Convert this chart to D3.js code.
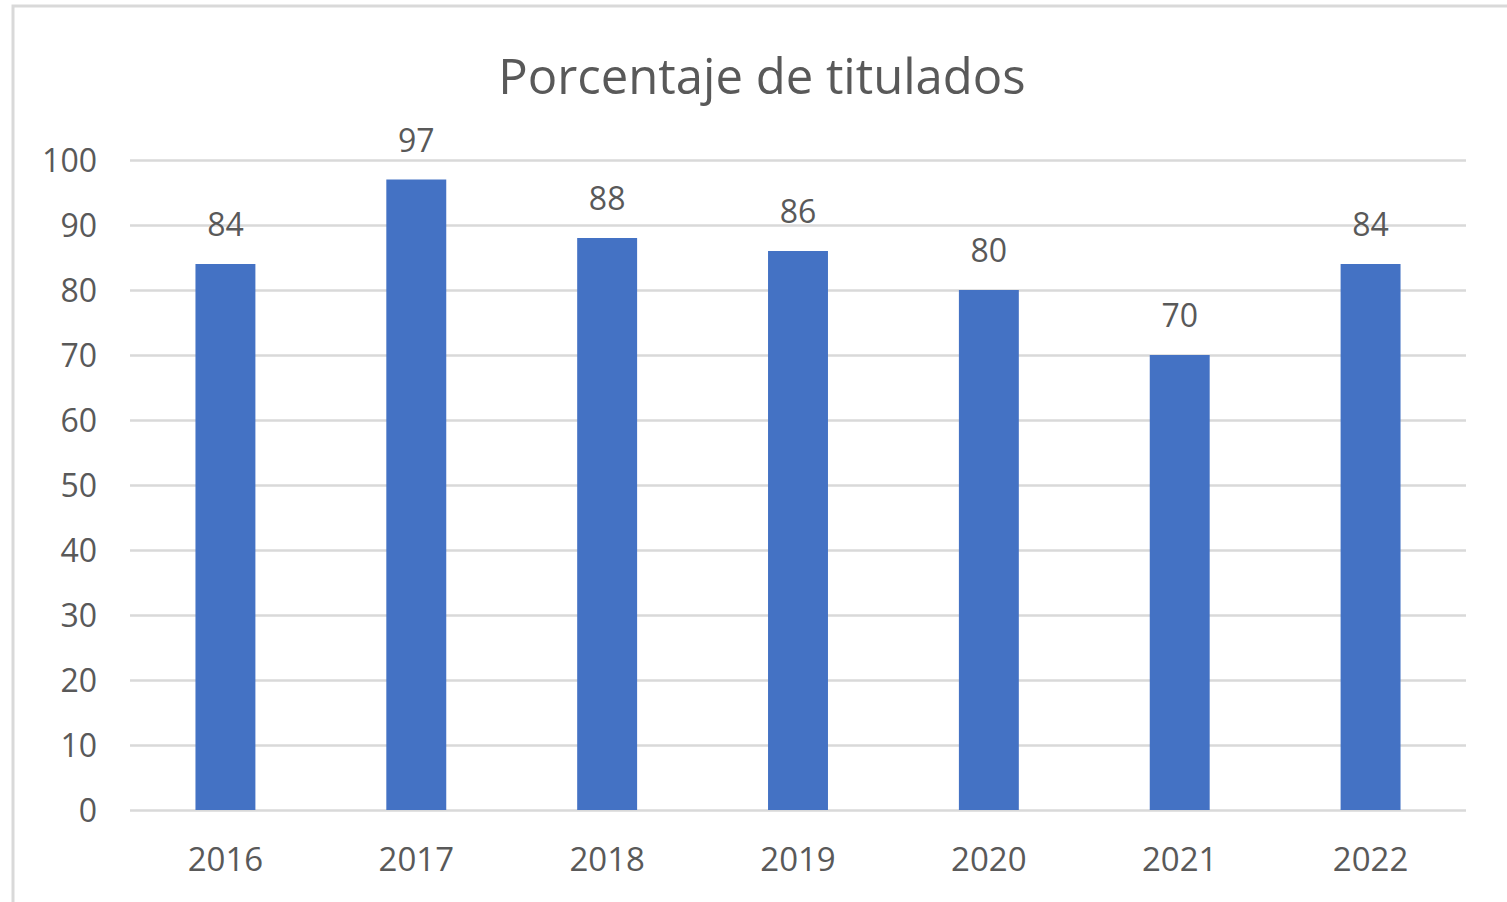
<!DOCTYPE html>
<html>
<head>
<meta charset="utf-8">
<script src="https://cdn.jsdelivr.net/npm/d3@7"></script>
<style>
body { margin:0; background:#fff; }
text { font-family: "Open Sans", sans-serif; fill:#595959; }
</style>
</head>
<body>
<div id="chart"></div>
<script>
const width = 1507
const height = 902
const margin = {top:160, bottom:92, left:130, right:41}

const years = ["2016","2017","2018","2019","2020","2021","2022"]
const values = [84, 97, 88, 86, 80, 70, 84]
const yTicks = [0,10,20,30,40,50,60,70,80,90,100]
const title = "Porcentaje de titulados"

const svg = d3.select("div#chart").append("svg").attr("width",width).attr("height",height)

// chart frame
svg.append("rect")
    .attr("x",13).attr("y",6)
    .attr("width",1520).attr("height",920)
    .attr("fill","none").attr("stroke","#d9d9d9").attr("stroke-width",3)

svg.append("text")
    .attr("x",762).attr("y",94)
    .attr("text-anchor","middle")
    .style("font-size","49px")
    .text(title)

const innerW = width - margin.left - margin.right
const innerH = height - margin.top - margin.bottom

const x = d3.scaleBand().domain(years).range([0,innerW]).paddingInner(0.686).paddingOuter(0.343)
const y = d3.scaleLinear().domain([0,100]).range([innerH,0])

const g = svg.append("g").attr("transform",`translate(${margin.left}, ${margin.top})`)

const yAxis = d3.axisLeft(y).tickValues(yTicks).tickSize(-innerW).tickPadding(33)
const yAxisGroup = g.append("g").call(yAxis)
yAxisGroup.select(".domain").remove()
yAxisGroup.selectAll(".tick line").attr("stroke","#d9d9d9").attr("stroke-width",2.5)
yAxisGroup.selectAll(".tick text").style("font-size","32px").attr("fill","#595959").attr("dy","0.36em")

const xAxis = d3.axisBottom(x).tickSize(0).tickPadding(61)
const xAxisGroup = g.append("g").attr("transform",`translate(0, ${innerH})`).call(xAxis)
xAxisGroup.select(".domain").remove()
xAxisGroup.selectAll(".tick text").style("font-size","33px").attr("fill","#595959").attr("dy","0")

g.selectAll("rect.bar").data(values).enter()
    .append("rect")
    .attr("class","bar")
    .attr("x",(d,i) => x(years[i]))
    .attr("y",d => y(d))
    .attr("width",x.bandwidth())
    .attr("height",d => innerH - y(d))
    .attr("fill","#4472c4")

g.selectAll("text.label").data(values).enter()
    .append("text")
    .attr("class","label")
    .attr("x",(d,i) => x(years[i]) + x.bandwidth()/2)
    .attr("y",d => y(d) - 28)
    .attr("text-anchor","middle")
    .style("font-size","32px")
    .text(d => d)
</script>
</body>
</html>
